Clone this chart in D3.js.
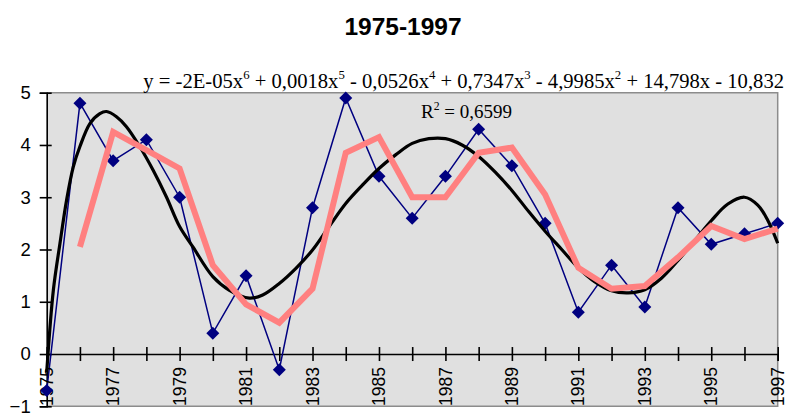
<!DOCTYPE html>
<html><head><meta charset="utf-8">
<script src="https://cdn.jsdelivr.net/npm/d3@7"></script>
<style>html,body{margin:0;padding:0;background:#fff;overflow:hidden}</style>
</head><body><svg id="c" width="788" height="414"></svg>
<script>
const title = "1975-1997";
const years = [1975,1976,1977,1978,1979,1980,1981,1982,1983,1984,1985,1986,1987,1988,1989,1990,1991,1992,1993,1994,1995,1996,1997];
const actual = [-0.7,4.8,3.7,4.1,3.0,0.4,1.5,-0.3,2.8,4.9,3.4,2.6,3.4,4.3,3.6,2.5,0.8,1.7,0.9,2.8,2.1,2.3,2.5];
const movingAvgYears = [1976,1977,1978,1979,1980,1981,1982,1983,1984,1985,1986,1987,1988,1989,1990,1991,1992,1993,1994,1995,1996,1997];
const movingAvg = [2.05,4.25,3.9,3.55,1.7,0.95,0.6,1.25,3.85,4.15,3.0,3.0,3.85,3.95,3.05,1.65,1.25,1.3,1.85,2.45,2.2,2.4];
const trendX = [1975,1975.2,1975.4,1975.6,1975.8,1976,1976.3,1976.6,1976.8,1977.1,1977.4,1977.8,1978.2,1978.6,1979,1979.4,1980,1980.5,1981.1,1981.5,1982,1982.5,1983,1983.5,1984,1984.5,1985,1985.5,1986,1986.5,1987,1987.5,1988,1988.5,1989,1989.5,1990,1990.5,1991,1991.5,1992,1992.5,1993,1993.5,1994,1994.5,1995,1995.5,1996,1996.4,1996.7,1997];
const trendY = [-0.35,1.22,2.12,2.95,3.58,3.97,4.41,4.6,4.64,4.54,4.35,3.97,3.52,3.01,2.44,2.05,1.48,1.22,1.07,1.13,1.35,1.64,1.99,2.44,2.88,3.23,3.55,3.81,4.03,4.12,4.12,4.0,3.78,3.48,3.13,2.73,2.35,2.0,1.65,1.38,1.21,1.17,1.23,1.45,1.79,2.17,2.55,2.87,3.0,2.85,2.56,2.12];
const yTicks = [-1,0,1,2,3,4,5];
const xLabelYears = [1975,1977,1979,1981,1983,1985,1987,1989,1991,1993,1995,1997];
const equationParts = [["y = -2E-05x",""],["6","sup"],[" + 0,0018x",""],["5","sup"],[" - 0,0526x",""],["4","sup"],[" + 0,7347x",""],["3","sup"],[" - 4,9985x",""],["2","sup"],[" + 14,798x - 10,832",""]];
const r2Parts = [["R",""],["2","sup"],[" = 0,6599",""]];

const svg = d3.select("#c");
const x = d3.scaleLinear().domain([1975,1997]).range([46.7,777.7]);
const y = d3.scaleLinear().domain([-1,5]).range([406.3,92.7]);
const sans = "Arial, 'Liberation Sans', sans-serif";
const serif = "'Times New Roman', 'Liberation Serif', serif";

// title
svg.append("text").attr("x",403).attr("y",35).attr("text-anchor","middle")
  .attr("font-family",sans).attr("font-weight","bold").attr("font-size",24.5).text(title);

// plot area
svg.append("rect").attr("x",x(1975)).attr("y",y(5)).attr("width",x(1997)-x(1975)).attr("height",y(-1)-y(5))
  .attr("fill","#e0e0e0");
svg.append("path").attr("d",`M${x(1975)},${y(5)}H${x(1997)}V${y(-1)}H${x(1975)}`)
  .attr("fill","none").attr("stroke","#8c8c8c").attr("stroke-width",1.5);

// y axis
const yAx = svg.append("g").attr("transform",`translate(${x(1975)},0)`)
  .call(d3.axisLeft(y).tickValues(yTicks).tickSize(7).tickPadding(9).tickFormat(d3.format("d")));
yAx.select(".domain").attr("stroke","#000").attr("stroke-width",1.6);
yAx.selectAll(".tick line").attr("x1",5).attr("stroke","#000").attr("stroke-width",1.6);
yAx.selectAll(".tick text").attr("font-family",sans).attr("font-size",18.5).attr("fill","#000");

// x axis at y=0
const xAx = svg.append("g").attr("transform",`translate(0,${y(0)})`)
  .call(d3.axisBottom(x).tickValues(years).tickSize(7).tickFormat(""));
xAx.select(".domain").attr("stroke","#000").attr("stroke-width",1.6);
xAx.selectAll(".tick line").attr("y1",-7).attr("stroke","#000").attr("stroke-width",1.6);

// blue series
svg.append("path").datum(years.map((d,i)=>[d,actual[i]]))
  .attr("d",d3.line().x(d=>x(d[0])).y(d=>y(d[1])))
  .attr("fill","none").attr("stroke","#000080").attr("stroke-width",1.5);

// x labels (inside plot, below axis)
svg.append("g").selectAll("text").data(xLabelYears).join("text")
  .attr("transform",d=>`translate(${x(d)},${367}) rotate(-90)`)
  .attr("text-anchor","end").attr("dy","0.35em")
  .attr("font-family",sans).attr("font-size",17.5).attr("fill","#000").text(d=>d);

svg.append("g").selectAll("path").data(years.map((d,i)=>[d,actual[i]])).join("path")
  .attr("transform",d=>`translate(${x(d[0])},${y(d[1])})`)
  .attr("d","M0,-6.5L6.5,0L0,6.5L-6.5,0Z").attr("fill","#000080");

// polynomial trend
svg.append("path").datum(trendX.map((d,i)=>[d,trendY[i]]))
  .attr("d",d3.line().curve(d3.curveCatmullRom).x(d=>x(d[0])).y(d=>y(d[1])))
  .attr("fill","none").attr("stroke","#000").attr("stroke-width",3.2);

// moving average
svg.append("path").datum(movingAvgYears.map((d,i)=>[d,movingAvg[i]]))
  .attr("d",d3.line().x(d=>x(d[0])).y(d=>y(d[1])))
  .attr("fill","none").attr("stroke","#ff8080").attr("stroke-width",6).attr("stroke-linejoin","miter");

// equation labels
function rich(parts, xPos, yPos, size){
  const t = svg.append("text").attr("x",xPos).attr("y",yPos).attr("text-anchor","end")
    .attr("font-family",serif).attr("font-size",size).attr("fill","#000");
  let up=false;
  parts.forEach(([s,k])=>{
    const sp=t.append("tspan").text(s);
    if(k==="sup"){sp.attr("font-size",size*0.62).attr("dy",-size*0.42);up=true;}
    else if(up){sp.attr("dy",size*0.42);up=false;}
  });
  return t;
}
const eq = rich(equationParts,784,88,18);
const w = eq.node().getComputedTextLength();
if (w>0) { const s = 18*641/w; eq.remove(); rich(equationParts,784,88,s); }
rich(r2Parts,512,118,19);
</script></body></html>
